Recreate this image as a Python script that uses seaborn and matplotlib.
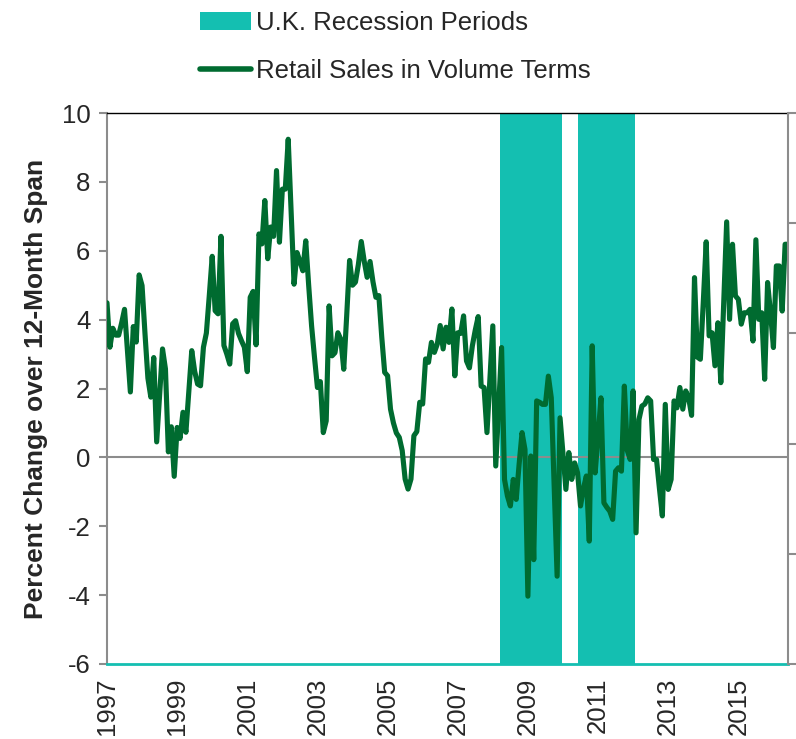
import numpy as np
import pandas as pd
import matplotlib
matplotlib.use("Agg")
import matplotlib.pyplot as plt
from matplotlib.patches import Patch
from matplotlib.lines import Line2D
import seaborn as sns

# Monthly year-over-year % change in retail sales volume, Jan 1997 onward
start_year = 1997
retail_sales = [
    4.49, 3.2, 3.75, 3.55, 3.55, 3.9, 4.3, 3.1, 1.9, 3.8, 3.35, 5.3,
    4.99, 3.6, 2.3, 1.75, 2.9, 0.45, 1.8, 3.15, 2.57, 0.16, 0.89, -0.55,
    0.87, 0.55, 1.31, 0.73, 1.9, 3.1, 2.5, 2.13, 2.08, 3.2, 3.61, 4.7,
    5.84, 4.26, 4.17, 6.42, 3.25, 3.0, 2.71, 3.88, 3.97, 3.6, 3.39, 3.2,
    2.49, 4.65, 4.82, 3.27, 6.49, 6.2, 7.46, 5.77, 6.69, 6.42, 8.33, 6.25,
    7.79, 7.79, 9.24, 7.1, 5.03, 5.95, 5.7, 5.42, 6.29, 5.0, 3.82, 2.9,
    2.03, 2.2, 0.72, 1.06, 4.4, 2.95, 3.04, 3.62, 3.43, 2.56, 4.1, 5.72,
    5.0, 5.09, 5.6, 6.27, 5.7, 5.23, 5.69, 5.1, 4.65, 4.7, 3.5, 2.47,
    2.37, 1.4, 1.0, 0.71, 0.58, 0.2, -0.63, -0.92, -0.63, 0.63, 0.75, 1.6,
    1.55, 2.86, 2.76, 3.34, 3.05, 3.29, 3.83, 3.15, 3.78, 3.34, 4.31, 2.37,
    3.62, 3.6, 4.11, 2.8, 2.6, 3.24, 3.7, 4.09, 2.07, 2.03, 0.72, 2.3,
    3.82, -0.25, 1.5, 3.19, -0.64, -1.12, -1.41, -0.64, -1.22, -0.2, 0.72, 0.23,
    -4.03, 0.04, -2.97, 1.64, 1.6, 1.54, 1.54, 2.36, 1.73, -0.86, -3.45, 1.15,
    0.1, -0.93, 0.14, -0.64, -0.16, -0.45, -1.41, -0.9, -0.54, -2.43, 3.24, -0.45,
    0.6, 1.73, -1.32, -1.45, -1.56, -1.8, -0.4, -0.3, -0.4, 2.07, 0.2, -0.06,
    1.93, -2.19, 1.1, 1.49, 1.55, 1.73, 1.64, -0.06, -0.06, -0.9, -1.7, 1.54,
    -0.93, -0.64, 1.64, 1.44, 2.03, 1.4, 1.93, 1.73, 1.22, 5.22, 2.91, 2.85,
    4.5, 6.26, 3.53, 3.62, 2.66, 3.91, 2.17, 4.5, 6.84, 4.01, 6.19, 4.69,
    4.59, 3.87, 4.2, 4.2, 4.3, 3.38, 6.32, 4.01, 4.2, 2.27, 5.08, 4.2,
    3.19, 5.56, 5.56, 4.25, 6.19, 6.19,
]

# Recession periods (start, end) in fractional years
recession_starts = [2008.2, 2010.43]
recession_ends = [2009.98, 2012.04]

y_ticks = [-6, -4, -2, 0, 2, 4, 6, 8, 10]
x_tick_years = list(range(1997, 2016, 2))

line_color = "#006B30"
teal = "#14BFB1"
spine_gray = "#8C8C8C"

df = pd.DataFrame({
    "year": start_year + np.arange(len(retail_sales)) / 12.0,
    "value": retail_sales,
})

sns.set_theme(style="white")
plt.rcParams["font.family"] = ["Liberation Sans", "DejaVu Sans"]

fig = plt.figure(figsize=(7.96, 7.39), dpi=100)
ax = fig.add_axes([0.1344, 0.1015, 0.8556, 0.7455])

for s, e in zip(recession_starts, recession_ends):
    ax.axvspan(s, e, color=teal, lw=0, zorder=1)

ax.axhline(0, color=spine_gray, lw=1.5, zorder=2)

sns.lineplot(data=df, x="year", y="value", ax=ax, color=line_color,
             lw=3.7, zorder=3, legend=False)

ax.set_xlim(df["year"].min(), df["year"].max())
ax.set_ylim(-6, 10)
ax.set_yticks(y_ticks)
ax.set_yticklabels([str(t) for t in y_ticks], fontsize=18.5)
ax.set_xticks(x_tick_years)
ax.set_xticklabels([str(y) for y in x_tick_years], rotation=90, fontsize=18.5)
ax.tick_params(axis="y", left=True, length=6, width=1.5, color=spine_gray, pad=6)
ax.tick_params(axis="x", bottom=False, length=0, pad=10)
ax.set_xlabel("")
ax.set_ylabel("Percent Change over 12-Month Span", fontsize=19,
              fontweight="bold", labelpad=10)

ax.spines["left"].set_color(spine_gray)
ax.spines["left"].set_linewidth(1.5)
ax.spines["top"].set_color("black")
ax.spines["top"].set_linewidth(1.0)
ax.spines["right"].set_visible(False)
ax.spines["bottom"].set_color(teal)
ax.spines["bottom"].set_linewidth(2.0)

# Secondary scale on the right: tick marks only
ax2 = ax.twinx()
ax2.set_ylim(0, 5)
ax2.set_yticks(range(6))
ax2.set_yticklabels([])
ax2.tick_params(axis="y", right=True, length=6, width=1.5, color=spine_gray)
ax2.spines["right"].set_color(spine_gray)
ax2.spines["right"].set_linewidth(1.5)
for side in ("left", "top", "bottom"):
    ax2.spines[side].set_visible(False)
ax2.grid(False)
ax.grid(False)

handles = [
    Patch(facecolor=teal, edgecolor="none", label="U.K. Recession Periods"),
    Line2D([0], [0], color=line_color, lw=4, solid_capstyle="round",
           label="Retail Sales in Volume Terms"),
]
fig.legend(handles=handles, loc="upper left", bbox_to_anchor=(0.238, 0.999),
           frameon=False, fontsize=18.5, handlelength=2.0, handletextpad=0.2,
           labelspacing=0.92, borderaxespad=0)

fig.savefig("out.png", dpi=100)
